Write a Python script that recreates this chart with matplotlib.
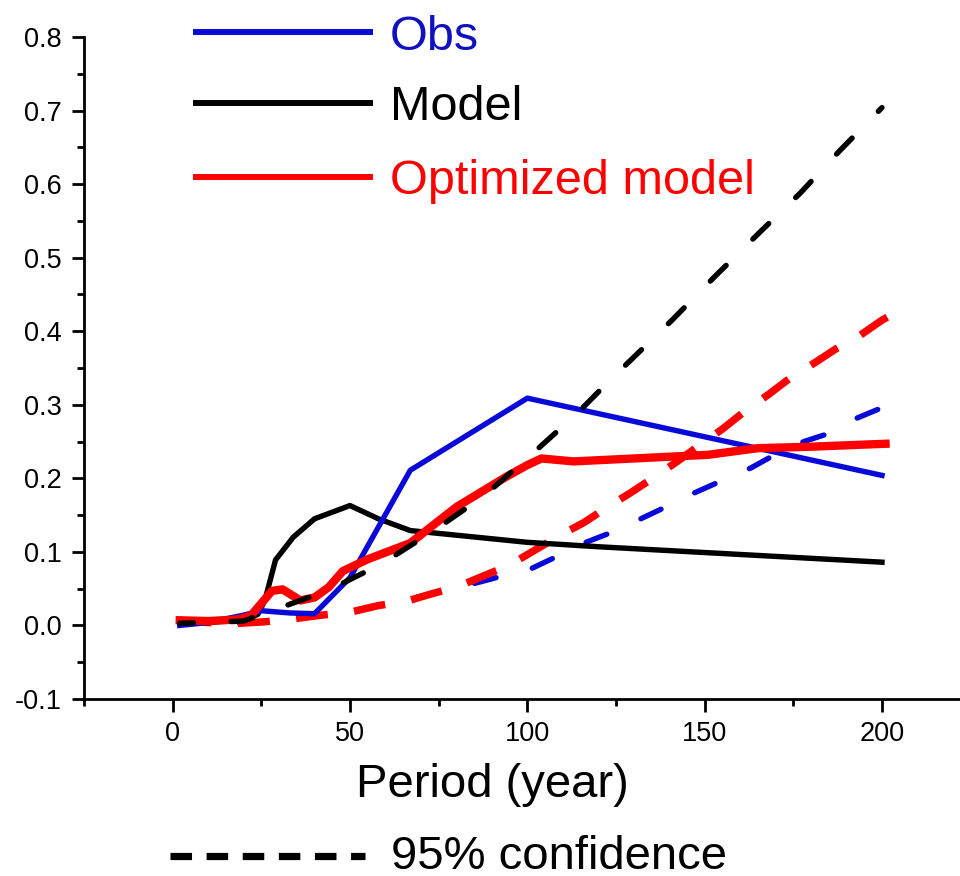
import matplotlib.pyplot as plt
from matplotlib.lines import Line2D
from matplotlib.ticker import MultipleLocator, FormatStrFormatter

plt.rcParams['font.family'] = ['Liberation Sans', 'DejaVu Sans']
plt.rcParams['axes.unicode_minus'] = False
plt.rcParams['lines.scale_dashes'] = False
plt.rcParams['xtick.labelsize'] = 19.5
plt.rcParams['ytick.labelsize'] = 19.5

# observed spectrum
obs_x = [2, 10, 20, 25, 33, 40, 50, 67, 100, 200]
obs_y = [0.0, 0.004, 0.014, 0.02, 0.017, 0.016, 0.065, 0.211, 0.309, 0.204]
obs_ci_x = [2, 10, 19, 26, 34, 42, 50, 58, 66, 75, 85, 92, 101, 108, 116, 124,
            132, 139, 147, 154, 163, 169, 178, 185, 193, 200]
obs_ci_y = [0.004, 0.003, 0.003, 0.005, 0.009, 0.014, 0.019, 0.027, 0.035, 0.045,
            0.057, 0.066, 0.077, 0.093, 0.112, 0.127, 0.145, 0.161, 0.18, 0.195,
            0.214, 0.23, 0.25, 0.261, 0.282, 0.296]

# original model
mod_x = [2, 10, 20, 24, 26, 29, 34, 40, 50, 58, 67, 100, 120, 200]
mod_y = [0.003, 0.004, 0.008, 0.015, 0.034, 0.089, 0.12, 0.145, 0.163, 0.145,
         0.129, 0.113, 0.107, 0.086]
mod_ci_x = [2, 10, 20, 28, 44, 59, 74, 88, 102, 114, 123, 141, 153, 165, 177,
            188, 200]
mod_ci_y = [0.003, 0.004, 0.006, 0.02, 0.048, 0.084, 0.13, 0.177, 0.236, 0.288,
            0.332, 0.416, 0.475, 0.532, 0.588, 0.645, 0.704]

# optimized model
opt_x = [2, 10, 18, 22, 25, 28, 31, 36, 40, 44, 48, 55, 67, 80, 94, 100, 104,
         113, 130, 151, 165, 180, 201]
opt_y = [0.007, 0.006, 0.008, 0.013, 0.03, 0.047, 0.049, 0.034, 0.038, 0.052,
         0.074, 0.09, 0.112, 0.161, 0.202, 0.218, 0.227, 0.223, 0.227, 0.232,
         0.241, 0.243, 0.247]
opt_ci_x = [2, 10, 19, 26, 34, 42, 50, 58, 66, 73, 80, 88, 95, 102, 109, 116,
            122, 129, 135, 142, 148, 155, 161, 168, 174, 181, 187, 194, 200, 207]
opt_ci_y = [0.007, 0.004, 0.003, 0.005, 0.009, 0.014, 0.018, 0.027, 0.033, 0.043,
            0.052, 0.068, 0.082, 0.102, 0.122, 0.14, 0.159, 0.18, 0.199, 0.222,
            0.243, 0.267, 0.29, 0.314, 0.336, 0.357, 0.376, 0.395, 0.415, 0.434]

blue = '#0a0ad8'
red = '#ff0000'

fig = plt.figure(figsize=(9.6, 8.76), dpi=100)
ax = fig.add_axes([84 / 960, 1 - 699 / 876, 1 - 84 / 960, (699 - 37) / 876])

ax.plot(obs_ci_x, obs_ci_y, color=blue, lw=3.9, ls=(0, (16, 27)),
        dash_capstyle='round', zorder=2)
ax.plot(opt_ci_x, opt_ci_y, color=red, lw=5.4, ls=(0, (23, 19)), zorder=3)
ax.plot(mod_x, mod_y, color='k', lw=3.9, zorder=4)
ax.plot(obs_x, obs_y, color=blue, lw=3.9, zorder=5)
ax.plot(opt_x, opt_y, color=red, lw=6.0, zorder=6)
ax.plot(mod_ci_x, mod_ci_y, color='k', lw=3.9, ls=(6, (16, 27)),
        dash_capstyle='round', zorder=7)

ax.set_xlim(-25, 222)
ax.set_ylim(-0.1, 0.8)
ax.set_xticks([0, 50, 100, 150, 200])
ax.xaxis.set_minor_locator(MultipleLocator(25))
ax.yaxis.set_major_locator(MultipleLocator(0.1))
ax.yaxis.set_minor_locator(MultipleLocator(0.05))
ax.yaxis.set_major_formatter(FormatStrFormatter('%.1f'))
for s in ['top', 'right']:
    ax.spines[s].set_visible(False)
for s in ['left', 'bottom']:
    ax.spines[s].set_linewidth(2)
ax.tick_params(which='major', direction='out', length=9, width=2, pad=7)
ax.tick_params(which='minor', direction='out', length=5, width=2)

fig.text(492 / 960, 1 - 797 / 876, 'Period (year)', fontsize=34,
         ha='center', va='baseline')


# legend drawn by hand in figure pixels
def fx(px):
    return px / 960


def fy(py):
    return 1 - py / 876


entries = [('Obs', blue, '#1010c0', 32), ('Model', 'k', 'k', 103),
           ('Optimized model', red, red, 177)]
for label, lc, tc, py in entries:
    fig.add_artist(Line2D([fx(196), fx(370)], [fy(py), fy(py)],
                          transform=fig.transFigure, color=lc, lw=4.3))
    fig.text(fx(390), fy(py), label, color=tc, fontsize=35,
             ha='left', va='center_baseline')

fig.add_artist(Line2D([fx(170), fx(365)], [fy(856), fy(856)],
                      transform=fig.transFigure, color='k', lw=5.2,
                      ls=(0, (15.5, 10.5))))
fig.text(fx(391), fy(869), '95% confidence', fontsize=34,
         ha='left', va='baseline')

fig.savefig('out.png', dpi=100)
